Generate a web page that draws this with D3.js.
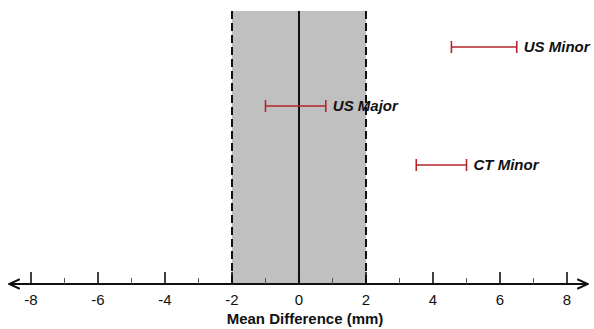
<!DOCTYPE html>
<html>
<head>
<meta charset="utf-8">
<script src="https://cdn.jsdelivr.net/npm/d3@7"></script>
<style>
  body { margin: 0; background: #fff; }
  svg { display: block; font-family: Arial, "Liberation Sans", sans-serif; }
</style>
</head>
<body>
<div id="chart"></div>
<script>
const width = 594, height = 329;

// data
const groups = ["US Minor", "US Major", "CT Minor"];
const lower = [4.55, -1.0, 3.5];
const upper = [6.5, 0.8, 5.0];
const limits = [-2, 2];
const ticksMajor = [-8, -6, -4, -2, 0, 2, 4, 6, 8];
const ticksMinor = [-7, -5, -3, -1, 1, 3, 5, 7];

const x = d3.scaleLinear().domain([-8, 8]).range([31, 567]);
const y = d3.scalePoint().domain(groups).range([47, 165]);
const axisY = 284, topY = 11;

const svg = d3.select("#chart").append("svg").attr("width", width).attr("height", height);

// agreement band
svg.append("rect")
  .attr("x", x(limits[0])).attr("y", topY)
  .attr("width", x(limits[1]) - x(limits[0])).attr("height", axisY - topY)
  .attr("fill", "#c0c0c0");

svg.selectAll(".limit").data(limits).join("line")
  .attr("x1", (d) => x(d)).attr("x2", (d) => x(d))
  .attr("y1", topY).attr("y2", axisY)
  .attr("stroke", "#111").attr("stroke-width", 2)
  .attr("stroke-dasharray", "8,4");

svg.append("line")
  .attr("x1", x(0)).attr("x2", x(0)).attr("y1", topY).attr("y2", axisY)
  .attr("stroke", "#111").attr("stroke-width", 2);

// axis line with arrows
svg.append("defs").append("marker")
  .attr("id", "arrow").attr("viewBox", "0 0 10 10").attr("refX", 9).attr("refY", 5)
  .attr("markerWidth", 6).attr("markerHeight", 6).attr("orient", "auto-start-reverse")
  .append("path").attr("d", "M0,1 L9,5 L0,9").attr("fill", "none").attr("stroke", "#111").attr("stroke-width", 1.6);

svg.append("line")
  .attr("x1", 9).attr("x2", 588).attr("y1", axisY).attr("y2", axisY)
  .attr("stroke", "#111").attr("stroke-width", 2)
  .attr("marker-start", "url(#arrow)").attr("marker-end", "url(#arrow)");

svg.selectAll(".major").data(ticksMajor).join("line")
  .attr("x1", (d) => x(d)).attr("x2", (d) => x(d))
  .attr("y1", axisY - 12).attr("y2", axisY)
  .attr("stroke", "#111").attr("stroke-width", 1.6);

svg.selectAll(".minor").data(ticksMinor).join("line")
  .attr("x1", (d) => x(d)).attr("x2", (d) => x(d))
  .attr("y1", axisY - 6).attr("y2", axisY)
  .attr("stroke", "#555").attr("stroke-width", 1);

svg.selectAll(".tlabel").data(ticksMajor).join("text")
  .attr("x", (d) => x(d)).attr("y", axisY + 21)
  .attr("text-anchor", "middle").attr("font-size", 15).attr("fill", "#111")
  .text((d) => d);

svg.append("text")
  .attr("x", 305).attr("y", 324)
  .attr("text-anchor", "middle").attr("font-size", 15).attr("font-weight", "bold").attr("fill", "#111")
  .text("Mean Difference (mm)");

// error bars
const rows = groups.map((g, i) => ({ g, lo: lower[i], hi: upper[i] }));
const bar = svg.selectAll(".bar").data(rows).join("g").attr("transform", (d) => `translate(0,${y(d.g)})`);
const red = "#b5262b";
bar.append("line").attr("x1", (d) => x(d.lo)).attr("x2", (d) => x(d.hi)).attr("stroke", red).attr("stroke-width", 1.6);
bar.append("line").attr("x1", (d) => x(d.lo)).attr("x2", (d) => x(d.lo)).attr("y1", -6).attr("y2", 6).attr("stroke", red).attr("stroke-width", 1.6);
bar.append("line").attr("x1", (d) => x(d.hi)).attr("x2", (d) => x(d.hi)).attr("y1", -6).attr("y2", 6).attr("stroke", red).attr("stroke-width", 1.6);
bar.append("text")
  .attr("x", (d) => x(d.hi) + 7).attr("dy", "0.35em")
  .attr("font-size", 15).attr("font-weight", "bold").attr("font-style", "italic").attr("fill", "#111")
  .text((d) => d.g);
</script>
</body>
</html>
